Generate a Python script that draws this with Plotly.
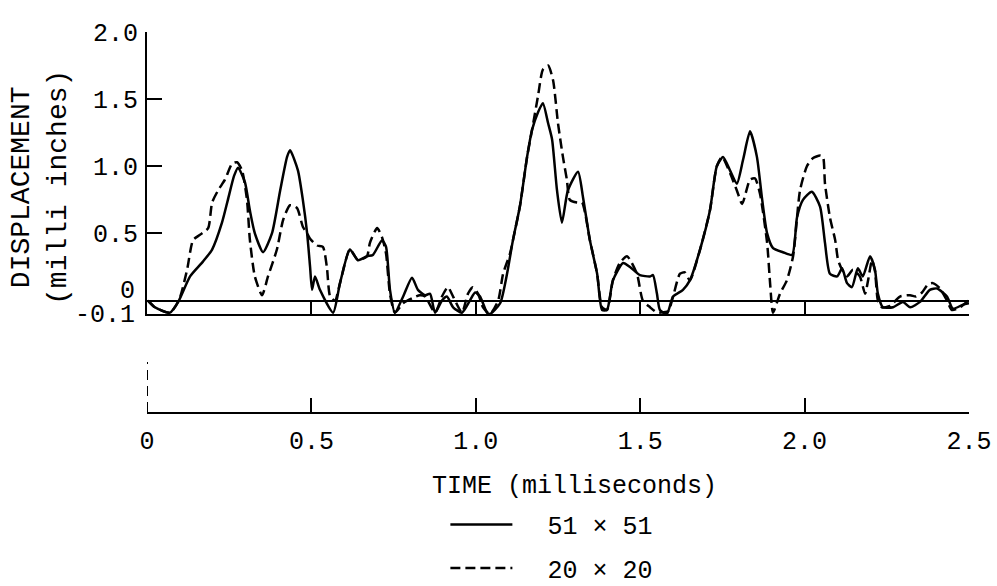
import plotly.graph_objects as go

# Time axis (milliseconds) and displacement (milli inches) for the two mesh sizes
time_51 = [0.003, 0.024, 0.070, 0.097, 0.131, 0.170, 0.198, 0.228, 0.246, 0.265,
           0.277, 0.298, 0.313, 0.328, 0.353, 0.380, 0.405, 0.426, 0.435, 0.459,
           0.474, 0.487, 0.496, 0.502, 0.511, 0.526, 0.566, 0.587, 0.617, 0.642,
           0.669, 0.687, 0.715, 0.727, 0.739, 0.754, 0.779, 0.806, 0.824, 0.846,
           0.861, 0.876, 0.897, 0.912, 0.931, 0.958, 0.982, 0.998, 1.013, 1.034,
           1.043, 1.074, 1.095, 1.113, 1.134, 1.156, 1.171, 1.189, 1.204, 1.220,
           1.232, 1.247, 1.262, 1.280, 1.311, 1.326, 1.347, 1.369, 1.384, 1.399,
           1.417, 1.448, 1.469, 1.499, 1.530, 1.539, 1.551, 1.560, 1.581, 1.600,
           1.630, 1.651, 1.682, 1.712, 1.733, 1.752, 1.773, 1.794, 1.813, 1.834,
           1.855, 1.870, 1.886, 1.904, 1.934, 1.962, 1.977, 1.995, 2.022, 2.047,
           2.062, 2.077, 2.099, 2.114, 2.129, 2.144, 2.162, 2.177, 2.199, 2.214,
           2.223, 2.238, 2.269, 2.299, 2.321, 2.351, 2.381, 2.403, 2.433, 2.451,
           2.482, 2.500]
disp_51 = [0.00, -0.05, -0.09, 0.00, 0.18, 0.29, 0.38, 0.58, 0.75, 0.93,
           0.99, 0.88, 0.67, 0.50, 0.36, 0.50, 0.82, 1.07, 1.12, 0.97,
           0.75, 0.50, 0.25, 0.08, 0.18, 0.08, -0.09, 0.13, 0.38, 0.30,
           0.33, 0.34, 0.45, 0.40, 0.08, -0.09, 0.03, 0.17, 0.08, 0.04,
           0.05, -0.09, 0.00, 0.03, -0.05, -0.09, 0.00, 0.06, 0.03, -0.09,
           -0.10, -0.02, 0.20, 0.45, 0.70, 1.07, 1.27, 1.40, 1.47, 1.32,
           1.20, 0.82, 0.58, 0.82, 0.96, 0.77, 0.45, 0.20, -0.07, -0.07,
           0.15, 0.28, 0.25, 0.19, 0.18, 0.19, 0.05, -0.07, -0.10, 0.03,
           0.08, 0.15, 0.38, 0.67, 1.00, 1.07, 0.97, 0.87, 1.05, 1.26,
           1.07, 0.77, 0.50, 0.39, 0.36, 0.34, 0.62, 0.75, 0.81, 0.70,
           0.43, 0.20, 0.18, 0.24, 0.13, 0.10, 0.24, 0.18, 0.33, 0.23,
           0.05, -0.05, -0.05, -0.01, -0.05, -0.01, 0.08, 0.09, 0.03, -0.06,
           -0.03, -0.02]

time_20 = [0.003, 0.024, 0.070, 0.097, 0.122, 0.140, 0.161, 0.186, 0.198, 0.216,
           0.237, 0.259, 0.274, 0.289, 0.304, 0.313, 0.328, 0.350, 0.368, 0.395,
           0.414, 0.435, 0.456, 0.474, 0.487, 0.496, 0.517, 0.535, 0.547, 0.557,
           0.572, 0.587, 0.617, 0.642, 0.669, 0.678, 0.700, 0.715, 0.727, 0.739,
           0.754, 0.779, 0.809, 0.830, 0.846, 0.876, 0.897, 0.915, 0.931, 0.958,
           0.976, 0.991, 1.007, 1.022, 1.043, 1.068, 1.083, 1.104, 1.113, 1.134,
           1.156, 1.171, 1.189, 1.204, 1.220, 1.235, 1.250, 1.265, 1.277, 1.286,
           1.308, 1.323, 1.347, 1.369, 1.384, 1.399, 1.417, 1.438, 1.460, 1.490,
           1.508, 1.530, 1.551, 1.560, 1.585, 1.600, 1.621, 1.636, 1.651, 1.682,
           1.712, 1.733, 1.749, 1.773, 1.794, 1.810, 1.834, 1.849, 1.864, 1.886,
           1.895, 1.904, 1.925, 1.946, 1.965, 1.986, 2.007, 2.025, 2.047, 2.056,
           2.062, 2.077, 2.093, 2.102, 2.114, 2.129, 2.147, 2.168, 2.184, 2.193,
           2.205, 2.214, 2.223, 2.235, 2.260, 2.290, 2.321, 2.339, 2.357, 2.375,
           2.390, 2.412, 2.433, 2.448, 2.473, 2.497]
disp_20 = [0.00, -0.05, -0.09, 0.00, 0.23, 0.45, 0.49, 0.54, 0.73, 0.82,
           0.90, 1.02, 1.03, 0.97, 0.75, 0.45, 0.18, 0.04, 0.18, 0.38,
           0.60, 0.71, 0.69, 0.55, 0.50, 0.46, 0.41, 0.40, 0.25, 0.03,
           0.00, 0.13, 0.38, 0.30, 0.33, 0.43, 0.54, 0.47, 0.35, 0.05,
           -0.09, -0.02, 0.02, 0.04, 0.03, -0.09, 0.03, 0.10, 0.03, -0.09,
           0.05, 0.10, 0.05, -0.05, -0.10, 0.00, 0.20, 0.35, 0.45, 0.70,
           1.07, 1.27, 1.52, 1.72, 1.75, 1.64, 1.32, 1.07, 0.90, 0.75,
           0.73, 0.73, 0.45, 0.20, -0.05, -0.07, 0.15, 0.28, 0.33, 0.20,
           0.00, -0.05, -0.09, -0.09, -0.08, 0.03, 0.20, 0.21, 0.15, 0.38,
           0.67, 1.00, 1.07, 0.95, 0.82, 0.72, 0.90, 0.91, 0.80, 0.43,
           0.13, -0.09, 0.05, 0.15, 0.33, 0.82, 1.00, 1.06, 1.08, 1.07,
           0.87, 0.62, 0.45, 0.30, 0.23, 0.18, 0.23, 0.18, 0.05, 0.15,
           0.30, 0.22, 0.00, -0.05, -0.04, 0.03, 0.04, 0.03, 0.06, 0.12,
           0.13, 0.09, 0.00, -0.07, -0.05, 0.00]

y_tick_vals = [0.5, 1.0, 1.5, 2.0]
y_tick_text = ["0.5", "1.0", "1.5", "2.0"]
x_tick_vals = [0, 0.5, 1.0, 1.5, 2.0, 2.5]
x_tick_text = ["0", "0.5", "1.0", "1.5", "2.0", "2.5"]

FONT = "Courier New, Liberation Mono, monospace"
INK = "black"
GAP = "\u00a0\u00a0"  # space between legend sample and label

fig = go.Figure()
fig.add_trace(go.Scatter(
    x=time_51, y=disp_51, mode="lines", name=GAP + "51 × 51",
    line=dict(color=INK, width=2.5, shape="spline", smoothing=0.6),
    xaxis="x", yaxis="y", legendgroup="a"))
fig.add_trace(go.Scatter(
    x=time_20, y=disp_20, mode="lines", name=GAP + "20 × 20",
    line=dict(color=INK, width=2.5, dash="10px,5px", shape="spline", smoothing=0.6),
    xaxis="x", yaxis="y", legendgroup="b"))

fig.update_layout(
    width=997, height=586,
    margin=dict(l=147, r=28, t=32, b=174, autoexpand=False),
    paper_bgcolor="white", plot_bgcolor="white",
    font=dict(family=FONT, size=25, color=INK),
    showlegend=True,
    legend=dict(x=0.363, y=-0.236, xanchor="left", yanchor="top",
                font=dict(size=25), tracegroupgap=8, itemwidth=62,
                bgcolor="rgba(0,0,0,0)"),
    xaxis=dict(domain=[0, 1], range=[0, 2.5], anchor="y",
               showline=True, linecolor=INK, linewidth=2,
               ticks="inside", tickvals=x_tick_vals[1:], ticklen=14,
               tickwidth=1.5, tickcolor=INK, showticklabels=False,
               showgrid=False, zeroline=False),
    yaxis=dict(domain=[0.2579, 1], range=[-0.1, 2.0], anchor="x",
               showline=True, linecolor=INK, linewidth=2,
               ticks="inside", tickvals=y_tick_vals, ticktext=y_tick_text,
               ticklen=15, tickwidth=2, tickcolor=INK,
               ticklabelstandoff=2, tickfont=dict(size=25),
               showgrid=False, zeroline=True, zerolinecolor=INK,
               zerolinewidth=2),
    xaxis2=dict(domain=[0, 1], range=[0, 2.5], anchor="y2",
                showline=True, linecolor=INK, linewidth=2,
                ticks="inside", tickvals=x_tick_vals, ticktext=x_tick_text,
                ticklen=14, tickwidth=1.5, tickcolor=INK,
                ticklabelstandoff=5, tickfont=dict(size=25),
                showgrid=False, zeroline=False),
    yaxis2=dict(domain=[0, 0.1316], range=[0, 1], anchor="x2", visible=False),
)

# dashed origin marker on the lower time axis
fig.add_shape(type="line", xref="x2", yref="y2 domain", x0=0, x1=0, y0=0, y1=1,
              line=dict(color=INK, width=2, dash="10px,6px"))

# labels for the zero and -0.1 reference lines
fig.add_annotation(text="0", xref="paper", yref="y", x=0, y=0, xanchor="right",
                   xshift=-10, yshift=9, showarrow=False, font=dict(size=25))
fig.add_annotation(text="-0.1", xref="paper", yref="y", x=0, y=-0.1, xanchor="right",
                   xshift=-10, yshift=-1, showarrow=False, font=dict(size=25))

# vertical axis title
fig.add_annotation(text="DISPLACEMENT<br>(milli inches)", xref="paper", yref="paper",
                   x=-0.130, y=0.59, xanchor="center", yanchor="middle",
                   textangle=-90, showarrow=False, font=dict(size=28))

# horizontal axis title
fig.add_annotation(text="TIME (milliseconds)", xref="paper", yref="paper",
                   x=0.52, y=-0.197, xanchor="center", yanchor="middle",
                   showarrow=False, font=dict(size=25))

fig.write_html("out.html")
